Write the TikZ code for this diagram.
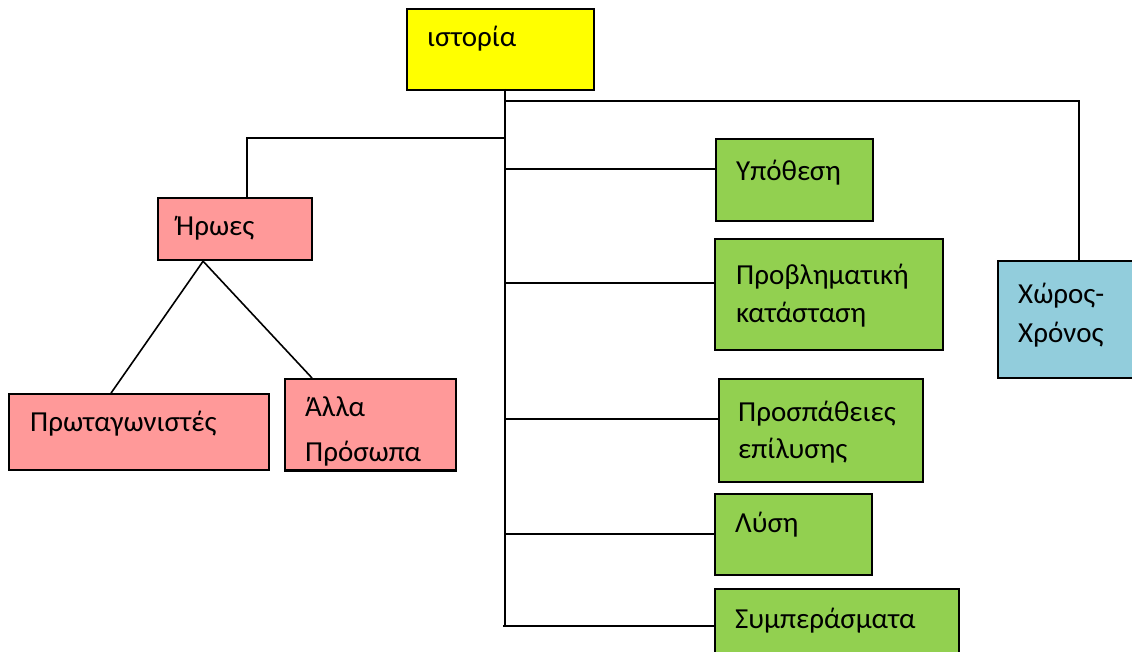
\documentclass[tikz,border=0pt]{standalone}
\usepackage{fontspec}
\setmainfont{Carlito}
\definecolor{boxyellow}{HTML}{FFFF00}
\definecolor{boxpink}{HTML}{FF9999}
\definecolor{boxgreen}{HTML}{92D050}
\definecolor{boxblue}{HTML}{92CDDC}
\tikzset{
  box/.style={draw=black, line width=2.2pt, inner sep=0pt, anchor=north west},
  link/.style={draw=black, line width=1.6pt},
  lbl/.style={inner sep=0pt, anchor=base west, font=\fontsize{29pt}{34pt}\selectfont}
}
\begin{document}
\begin{tikzpicture}[x=1pt, y=-1pt]
\useasboundingbox (0,0) rectangle (1132,652);
\clip (0,0) rectangle (1132,652);

% boxes
\node[box, fill=boxyellow, minimum width=187pt, minimum height=81pt] (istoria) at (406,8) {};
\node[box, fill=boxpink, minimum width=154pt, minimum height=62pt] (iroes) at (157,197) {};
\node[box, fill=boxpink, minimum width=260pt, minimum height=76pt] (prot) at (8,393) {};
\node[box, fill=boxpink, minimum width=171pt, minimum height=91pt] (alla) at (284,378) {};
\node[box, fill=boxgreen, minimum width=157pt, minimum height=82pt] (ypo) at (715,138) {};
\node[box, fill=boxgreen, minimum width=228pt, minimum height=111pt] (provl) at (714,238) {};
\node[box, fill=boxgreen, minimum width=204pt, minimum height=103pt] (prosp) at (718,378) {};
\node[box, fill=boxgreen, minimum width=157pt, minimum height=81pt] (lysi) at (714,493) {};
\node[box, fill=boxgreen, minimum width=244pt, minimum height=90pt] (symp) at (714,588) {};
\node[box, fill=boxblue, minimum width=162pt, minimum height=117pt] (xoros) at (997,260) {};

% trunk junctions
\coordinate (ttop) at (505,89);
\coordinate (jright) at (505,101);
\coordinate (jleft) at (505,138);
\coordinate (tbot) at (503,626);

% connectors
\draw[link] (ttop) -- (505,626);
\draw[link] (jright) -| (xoros.north);
\draw[link] (jleft) -| ([xshift=12pt]iroes.north);
\draw[link] (505,169) -- (ypo.west |- 0,169);
\draw[link] (505,283) -- (provl.west |- 0,283);
\draw[link] (505,419) -- (prosp.west |- 0,419);
\draw[link] (505,534) -- (lysi.west |- 0,534);
\draw[link] (tbot) -- (symp.west |- 0,626);
\draw[link] ([xshift=-32pt]iroes.south) -- ([xshift=-28pt]prot.north);
\draw[link] ([xshift=-32pt]iroes.south) -- ([xshift=28pt]alla.north west);

% labels
\node[lbl] (t1) at (427,47) {ιστορία};
\node[lbl] (t2) at (176,236) {Ήρωες};
\node[lbl] (t3) at (30,431) {Πρωταγωνιστές};
\node[lbl] (t4) at (305,416) {Άλλα};
\begin{scope}
  \clip ([xshift=1.1pt,yshift=5pt]alla.south west) rectangle ([xshift=-1.1pt,yshift=-1.1pt]alla.north east);
  \node[lbl] (t5) at (305,461) {Πρόσωπα};
\end{scope}
\draw[line width=2.2pt] (alla.south west) -- (alla.south east);
\node[lbl] (t6) at (736,181) {Υπόθεση};
\node[lbl] (t7) at (736,284) {Προβληματική};
\node[lbl] (t8) at (736,322) {κατάσταση};
\node[lbl] (t9) at (738,421) {Προσπάθειες};
\node[lbl] (t10) at (738,458) {επίλυσης};
\node[lbl] (t11) at (735,532) {Λύση};
\node[lbl] (t12) at (735,628) {Συμπεράσματα};
\node[lbl] (t13) at (1018,303) {Χώρος-};
\node[lbl] (t14) at (1018,342) {Χρόνος};
\end{tikzpicture}
\end{document}
